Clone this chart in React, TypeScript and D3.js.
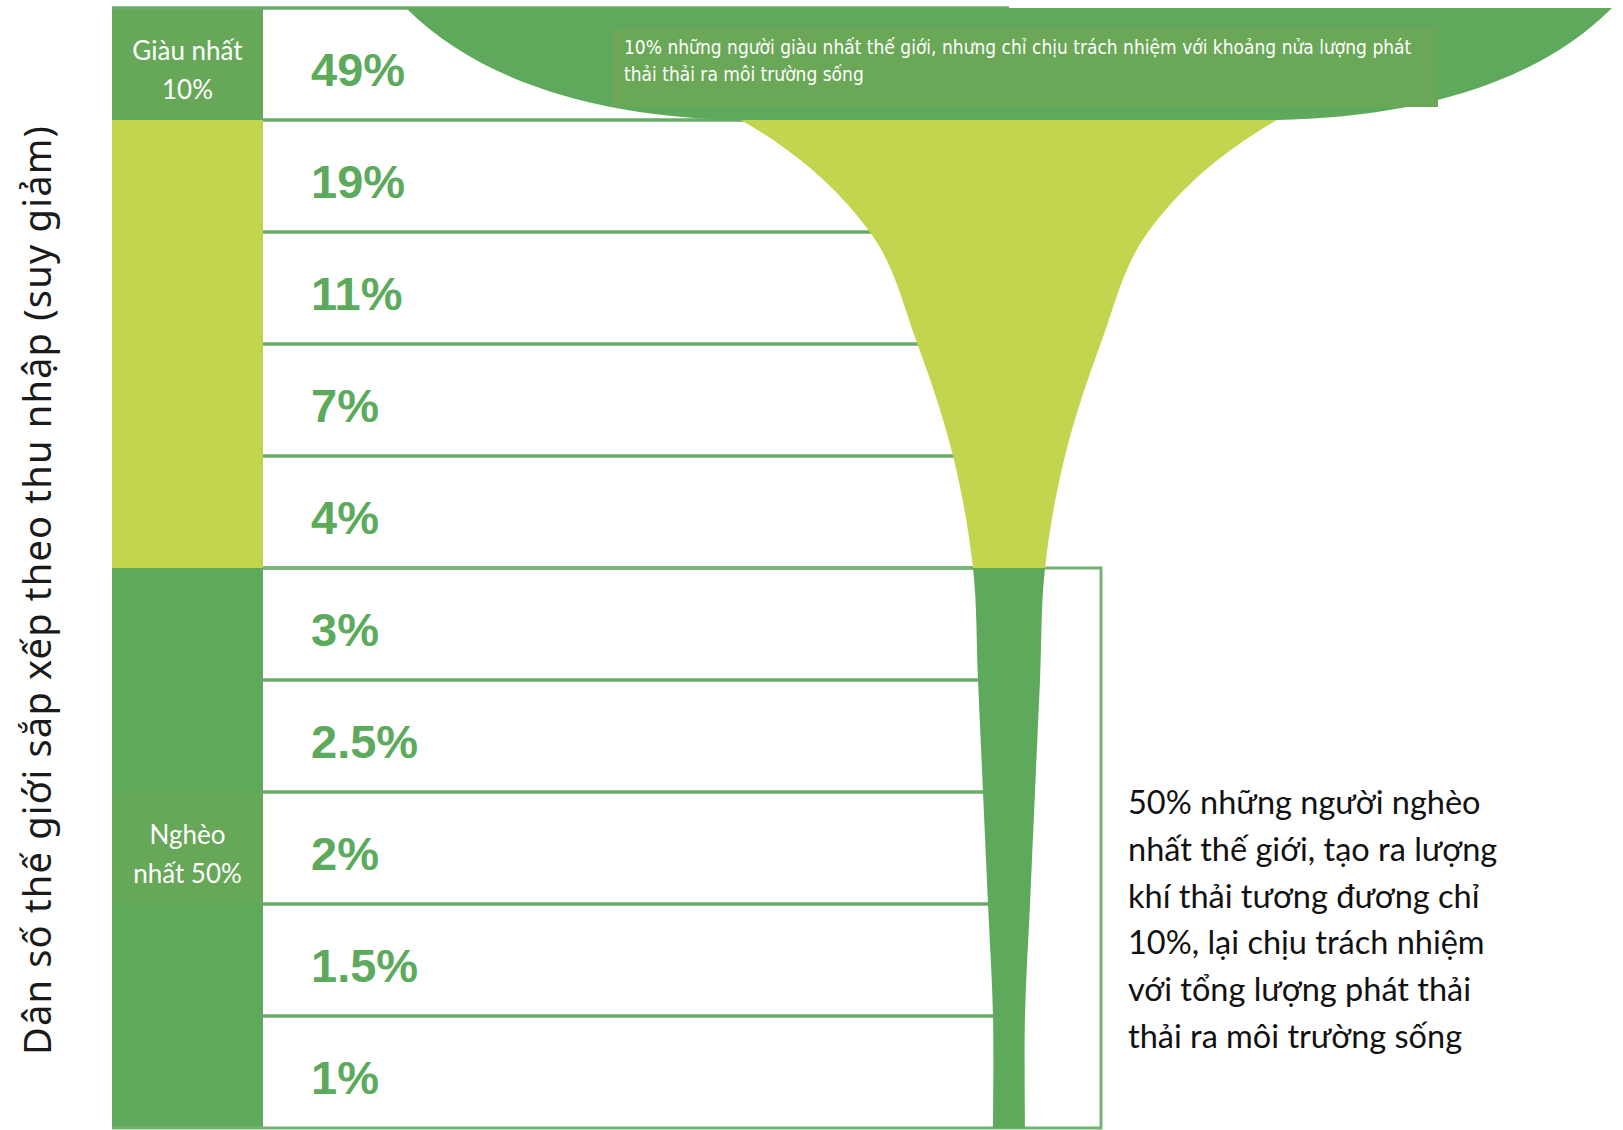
import React, { useEffect, useRef } from 'react'
import * as d3 from 'd3'

// deciles of world population, richest first
const deciles = ['D10', 'D9', 'D8', 'D7', 'D6', 'D5', 'D4', 'D3', 'D2', 'D1']
const shares = [49, 19, 11, 7, 4, 3, 2.5, 2, 1.5, 1]
const shareLabels = ['49%', '19%', '11%', '7%', '4%', '3%', '2.5%', '2%', '1.5%', '1%']
const groups = ['rich', 'middle', 'middle', 'middle', 'middle', 'poor', 'poor', 'poor', 'poor', 'poor']
const groupLabels = [
  { row: 0, lines: ['Giàu nhất', '10%'] },
  { row: 7, lines: ['Nghèo', 'nhất 50%'] },
]
const yTitle = 'Dân số thế giới sắp xếp theo thu nhập (suy giảm)'
const topNote = [
  '10% những người giàu nhất thế giới, nhưng chỉ chịu trách nhiệm với khoảng nửa lượng phát',
  'thải thải ra môi trường sống',
]
const bottomNote = [
  '50% những người nghèo',
  'nhất thế giới, tạo ra lượng',
  'khí thải tương đương chỉ',
  '10%, lại chịu trách nhiệm',
  'với tổng lượng phát thải',
  'thải ra môi trường sống',
]

const DARK = '#5ea95b'
const LABEL_DARK = '#66a858'
const LIME = '#c3d54f'
const LINE = '#6aaa6a'
const TEXT_GREEN = '#5caa5c'

const App: React.FC = () => {
  const svgRef = useRef<SVGSVGElement>(null)

  useEffect(() => {
    if (!svgRef.current) return

    const width = 1623
    const height = 1130
    const colX0 = 112
    const colX1 = 263
    const cx = 1009
    const boxRight = 1101
    const top = 8
    const bottom = 1128

    const y = d3.scaleBand<string>().domain(deciles).range([top, bottom])
    const bw = y.bandwidth()
    // half width of the funnel for a share of emissions (the original is drawn by hand, not to scale)
    const hw = d3.scaleLinear().domain([1, 3, 4, 11, 19, 49]).range([16, 36, 56, 139, 268, 603])

    const svg = d3.select(svgRef.current)
    svg.selectAll('*').remove()
    svg.attr('width', width).attr('height', height)

    svg.append('rect').attr('width', width).attr('height', height).attr('fill', '#fff')

    // left colour column
    svg
      .append('g')
      .selectAll('rect')
      .data(deciles)
      .join('rect')
      .attr('x', colX0)
      .attr('y', (d) => y(d)!)
      .attr('width', colX1 - colX0)
      .attr('height', bw + 0.5)
      .attr('fill', (d, i) => {
        if (groups[i] === 'middle') return LIME
        return groupLabels.some((g) => g.row === i) ? LABEL_DARK : DARK
      })

    // row lines
    const lines = svg.append('g').attr('stroke', LINE).attr('stroke-width', 3.5).attr('fill', 'none')
    lines.append('line').attr('x1', colX0).attr('x2', cx).attr('y1', top).attr('y2', top)
    deciles.slice(1).forEach((d) => {
      lines.append('line').attr('x1', colX1).attr('x2', cx).attr('y1', y(d)!).attr('y2', y(d)!)
    })
    // box round the poorest half
    const poorTop = y(deciles[groups.indexOf('poor')])!
    lines
      .append('path')
      .attr('d', `M${colX1},${poorTop}H${boxRight}V${bottom}H${colX0}`)
      .attr('stroke', '#74b274')
      .attr('stroke-width', 3)

    // funnel: below the richest band
    const y0 = y(deciles[0])!
    const y1 = y(deciles[1])!
    const stem = shares
      .map((v, i) => ({ y: y(deciles[i])!, v }))
      .concat([{ y: bottom, v: shares[shares.length - 1] }])
    const area = d3
      .area<{ y: number; v: number }>()
      .y((d) => d.y)
      .x0((d) => cx - hw(d.v))
      .x1((d) => cx + hw(d.v))
      .curve(d3.curveCatmullRom.alpha(0.5))

    const defs = svg.append('defs')
    defs
      .append('clipPath')
      .attr('id', 'clip-mid')
      .append('rect')
      .attr('x', 0)
      .attr('y', y1)
      .attr('width', width)
      .attr('height', poorTop - y1)
    defs
      .append('clipPath')
      .attr('id', 'clip-poor')
      .append('rect')
      .attr('x', 0)
      .attr('y', poorTop)
      .attr('width', width)
      .attr('height', bottom - poorTop)

    svg.append('path').attr('d', area(stem)).attr('fill', LIME).attr('clip-path', 'url(#clip-mid)')
    svg.append('path').attr('d', area(stem)).attr('fill', DARK).attr('clip-path', 'url(#clip-poor)')

    // funnel: richest band as a bowl
    const w0 = hw(shares[0])
    const w1 = hw(shares[1])
    const diff = w0 - w1
    const h = y1 - y0
    const bowl = d3.path()
    bowl.moveTo(cx - w0, y0)
    bowl.bezierCurveTo(cx - w0 + 0.25 * diff, y0 + 0.75 * h, cx - w1 - 0.35 * diff, y1 - 2, cx - w1, y1)
    bowl.lineTo(cx + w1, y1)
    bowl.bezierCurveTo(cx + w1 + 0.35 * diff, y1 - 2, cx + w0 - 0.25 * diff, y0 + 0.75 * h, cx + w0, y0)
    bowl.closePath()
    svg.append('path').attr('d', bowl.toString()).attr('fill', DARK)

    // top annotation box
    svg.append('rect').attr('x', 612).attr('y', 28).attr('width', 826).attr('height', 79).attr('fill', '#6aa857')
    svg
      .append('g')
      .selectAll('text')
      .data(topNote)
      .join('text')
      .attr('x', 624)
      .attr('y', (d, i) => 54 + i * 27)
      .attr('fill', '#fff')
      .style('font-family', '"Liberation Sans Narrow", "DejaVu Sans Condensed", Lato, sans-serif')
      .style('font-size', '19px')
      .text((d) => d)

    // share labels
    svg
      .append('g')
      .selectAll('text')
      .data(shareLabels)
      .join('text')
      .attr('x', colX1 + 48)
      .attr('y', (d, i) => y(deciles[i])! + bw / 2 + 22)
      .attr('fill', TEXT_GREEN)
      .style('font-family', '"Liberation Sans", Arial, sans-serif')
      .style('font-weight', 700)
      .style('font-size', '47px')
      .text((d) => d)

    // group labels in the column
    groupLabels.forEach((g) => {
      const c = y(deciles[g.row])! + bw / 2
      svg
        .append('g')
        .selectAll('text')
        .data(g.lines)
        .join('text')
        .attr('x', (colX0 + colX1) / 2)
        .attr('y', (d, i) => c - 4 + i * 39)
        .attr('text-anchor', 'middle')
        .attr('fill', '#fff')
        .style('font-family', 'Lato, sans-serif')
        .style('font-size', '26px')
        .text((d) => d)
    })

    // right annotation
    svg
      .append('g')
      .selectAll('text')
      .data(bottomNote)
      .join('text')
      .attr('x', 1128)
      .attr('y', (d, i) => 814 + i * 46.8)
      .attr('fill', '#111')
      .style('font-family', 'Lato, sans-serif')
      .style('font-size', '32.5px')
      .text((d) => d)

    // y axis title
    svg
      .append('text')
      .attr('transform', `translate(51,${(top + bottom) / 2 + 22}) rotate(-90)`)
      .attr('text-anchor', 'middle')
      .attr('fill', '#1a1a1a')
      .style('font-family', '"Noto Sans", sans-serif')
      .style('font-size', '38px')
      .style('letter-spacing', '1.2px')
      .text(yTitle)
  }, [])

  return <svg ref={svgRef} style={{ position: 'absolute', left: 0, top: 0, display: 'block' }}></svg>
}

export default App
